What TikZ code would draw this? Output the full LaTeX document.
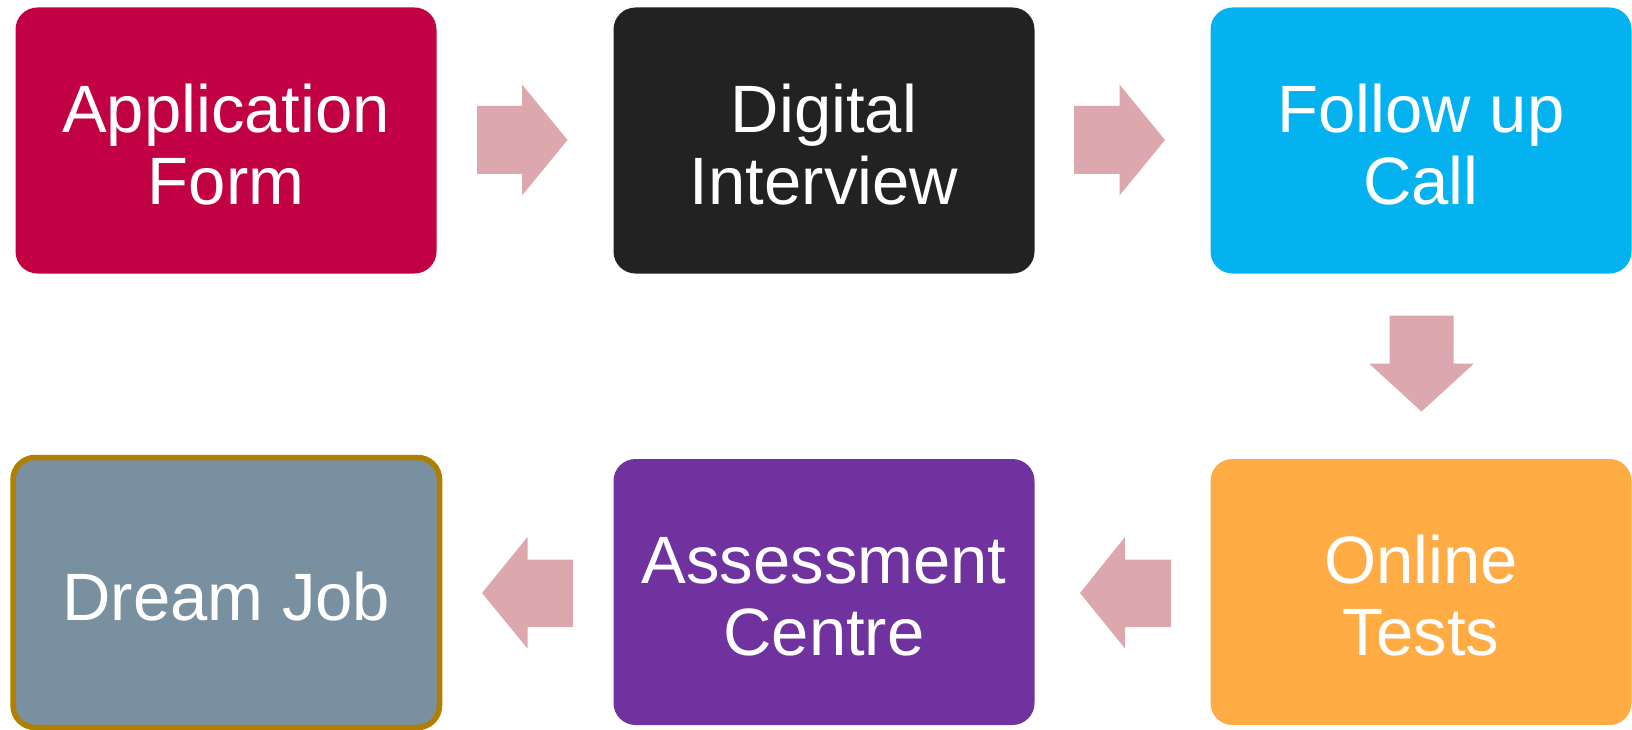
\documentclass[tikz,border=0pt]{standalone}
\usepackage{fontspec}
\setmainfont{Liberation Sans}
\definecolor{cRed}{HTML}{C20044}
\definecolor{cBlack}{HTML}{222222}
\definecolor{cCyan}{HTML}{04B2F0}
\definecolor{cOrange}{HTML}{FFAC44}
\definecolor{cPurple}{HTML}{70329E}
\definecolor{cGray}{HTML}{7890A0}
\definecolor{cGold}{HTML}{B07F00}
\definecolor{cArrow}{HTML}{DDA8AD}
\newcommand\mystrut{\rule{0pt}{56pt}}
\tikzset{
  stepbox/.style={rounded corners=22pt, minimum width=421pt, minimum height=266pt,
    inner sep=0pt, align=center, text=white,
    font=\fontsize{67}{72}\selectfont},
  blockarrow/.style={fill=cArrow, draw=none}
}
\begin{document}
\begin{tikzpicture}[x=1pt,y=-1pt]
\useasboundingbox (0,0) rectangle (1632,730);
\node[stepbox, fill=cRed]    (app)  at (226,140.5)  {\mystrut Application\\Form};
\node[stepbox, fill=cBlack]  (dig)  at (824,140.5)  {\mystrut Digital\\Interview};
\node[stepbox, fill=cCyan]   (fol)  at (1421,140.5) {\mystrut Follow up\\Call};
\node[stepbox, fill=cOrange] (onl)  at (1421,592)   {\mystrut Online\\Tests};
\node[stepbox, fill=cPurple] (ass)  at (824,592)    {\mystrut Assessment\\Centre};
\node[stepbox, fill=cGray, draw=cGold, line width=5.5pt, minimum width=426.5pt, minimum height=270pt] (job) at (226.3,592.5) {\mystrut Dream Job};
% arrows
\fill[blockarrow] (477,106) -- (522,106) -- (522,84.5) -- (567.5,140) -- (522,195.5) -- (522,174) -- (477,174) -- cycle;
\fill[blockarrow] (1074,106) -- (1119.5,106) -- (1119.5,84.5) -- (1165,140) -- (1119.5,195.5) -- (1119.5,174) -- (1074,174) -- cycle;
\fill[blockarrow] (1389.5,315.5) -- (1453.5,315.5) -- (1453.5,363.5) -- (1474,363.5) -- (1421.5,411.5) -- (1369,363.5) -- (1389.5,363.5) -- cycle;
\fill[blockarrow] (1171,559.5) -- (1125,559.5) -- (1125,537) -- (1080,593) -- (1125,648.5) -- (1125,627) -- (1171,627) -- cycle;
\fill[blockarrow] (573,559.5) -- (527.5,559.5) -- (527.5,537) -- (482,593) -- (527.5,648.5) -- (527.5,627) -- (573,627) -- cycle;
\end{tikzpicture}
\end{document}
